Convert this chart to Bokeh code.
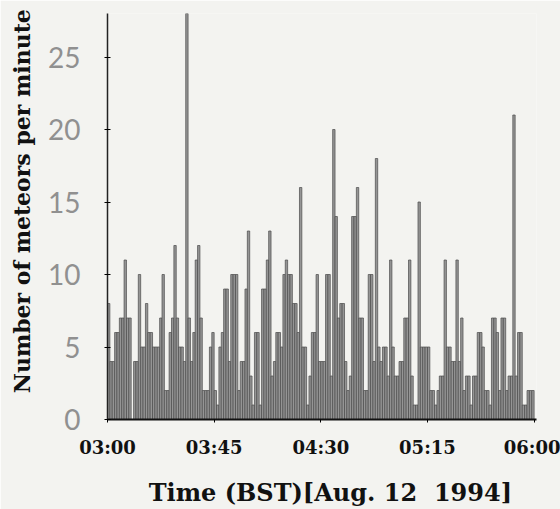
from bokeh.plotting import figure
from bokeh.models import FixedTicker, Range1d, ColumnDataSource
from bokeh.embed import file_html
from bokeh.resources import INLINE

# Meteors per minute, one value per minute from 03:00 BST
counts_0300 = [8, 4, 4, 6, 6, 7, 7, 11, 7, 7, 0, 4, 4, 10, 5, 5, 8, 6, 6, 5, 5, 5, 7, 10, 2,
               2, 6, 7, 12, 7, 5, 5, 4, 28, 7, 4, 6, 11, 12, 7, 2, 2, 2, 5, 6]
counts_0345 = [2, 1, 5, 6, 9, 9, 4, 10, 10, 10, 2, 4, 4, 9, 13, 3, 1, 6, 6, 1, 9, 9, 11, 13, 3,
               4, 6, 6, 5, 10, 11, 10, 10, 8, 8, 6, 16, 5, 5, 1, 3, 6, 6, 10, 4]
counts_0430 = [4, 4, 10, 10, 3, 20, 14, 7, 8, 8, 4, 2, 3, 14, 14, 16, 7, 7, 2, 2, 10, 10, 4, 18, 5,
               4, 5, 5, 3, 11, 5, 3, 3, 4, 4, 7, 7, 11, 3, 1, 1, 15, 5, 5, 5]
counts_0515 = [5, 2, 2, 1, 2, 3, 3, 11, 5, 5, 4, 4, 11, 4, 7, 2, 3, 3, 1, 3, 3, 6, 6, 5, 2,
               2, 1, 7, 7, 6, 2, 7, 7, 2, 3, 3, 21, 3, 6, 6, 1, 1, 2, 2, 2]

tick_minutes = [0, 45, 90, 135, 180]
tick_labels = ["03:00", "03:45", "04:30", "05:15", "06:00"]
y_ticks = [0, 5, 10, 15, 20, 25]
y_title = "\u00a0\u00a0\u00a0\u00a0Number of meteors per minute"
x_title = "\u00a0\u00a0Time (BST)[Aug. 12\u00a0\u00a01994]"

counts = counts_0300 + counts_0345 + counts_0430 + counts_0515
minutes = list(range(len(counts)))
src = ColumnDataSource(dict(left=minutes, right=[m + 1 for m in minutes], top=counts))

bg = "#f3f3f0"
p = figure(width=560, height=509, output_backend="svg", toolbar_location=None,
           x_range=Range1d(0, 181), y_range=Range1d(0, 28),
           min_border_left=107, min_border_right=24, min_border_top=13, min_border_bottom=88,
           background_fill_color=bg, border_fill_color=bg)
p.outline_line_color = None
p.xgrid.visible = False
p.ygrid.visible = False

p.quad(left="left", right="right", bottom=0, top="top", source=src,
       fill_color="#959595", line_color="#4a4a4a", line_width=0.7)

serif = "DejaVu Serif"
p.xaxis.ticker = FixedTicker(ticks=tick_minutes)
p.xaxis.major_label_overrides = {m: l for m, l in zip(tick_minutes, tick_labels)}
p.xaxis.major_label_text_font = serif
p.xaxis.major_label_text_font_style = "bold"
p.xaxis.major_label_text_font_size = "18px"
p.xaxis.major_label_text_color = "#111111"
p.xaxis.major_label_standoff = 14
p.xaxis.axis_line_width = 2
p.xaxis.axis_line_color = "#111111"
p.xaxis.major_tick_in = 0
p.xaxis.major_tick_out = 3
p.xaxis.minor_tick_line_color = None
p.xaxis.axis_label = x_title
p.xaxis.axis_label_text_font = serif
p.xaxis.axis_label_text_font_style = "bold"
p.xaxis.axis_label_text_font_size = "24px"
p.xaxis.axis_label_text_color = "#111111"
p.xaxis.axis_label_standoff = 17

p.yaxis.ticker = FixedTicker(ticks=y_ticks)
p.yaxis.major_label_text_font = "Lato"
p.yaxis.major_label_text_font_size = "28px"
p.yaxis.major_label_text_color = "#909090"
p.yaxis.major_label_standoff = 24
p.yaxis.axis_line_width = 1.5
p.yaxis.axis_line_color = "#222222"
p.yaxis.major_tick_in = 3
p.yaxis.major_tick_out = 3
p.yaxis.minor_tick_line_color = None
p.yaxis.axis_label = y_title
p.yaxis.axis_label_text_font = serif
p.yaxis.axis_label_text_font_style = "bold"
p.yaxis.axis_label_text_font_size = "22px"
p.yaxis.axis_label_text_color = "#111111"
p.yaxis.axis_label_standoff = 10

open("out.html", "w").write(file_html(p, INLINE))
